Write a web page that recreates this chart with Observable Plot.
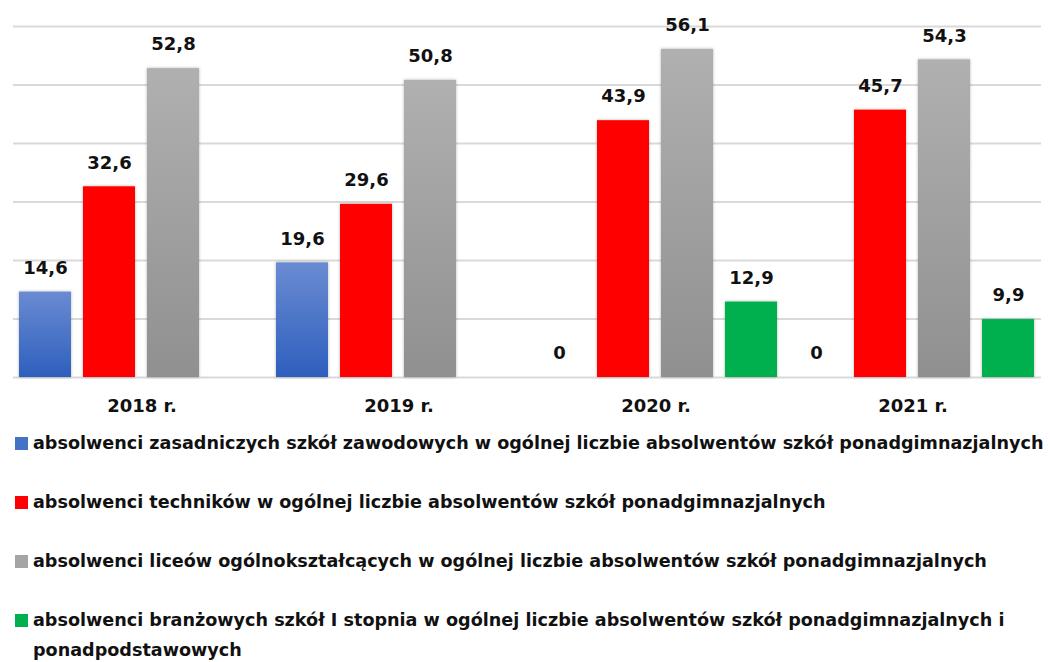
<!DOCTYPE html>
<html>
<head>
<meta charset="utf-8">
<script src="https://cdn.jsdelivr.net/npm/d3@7"></script>
<script src="https://cdn.jsdelivr.net/npm/@observablehq/plot@0.6"></script>
<style>
  html, body { margin: 0; padding: 0; background: #fff; }
  body { width: 1050px; height: 662px; overflow: hidden; font-family: "DejaVu Sans", sans-serif; }
  #legend { margin-top: 3px; }
  .item { position: relative; padding-left: 33px; padding-right: 4px; line-height: 30px; font-size: 17.6px; font-weight: bold; color: #111; margin-bottom: 29px; }
  .sw { position: absolute; left: 15px; top: 9px; width: 13px; height: 13px; }
</style>
</head>
<body>
<div id="chart"></div>
<div id="legend"></div>
<script>
const years = ["2018 r.", "2019 r.", "2020 r.", "2021 r."];
const seriesNames = [
  "absolwenci zasadniczych szkół zawodowych w ogólnej liczbie absolwentów szkół ponadgimnazjalnych",
  "absolwenci techników w ogólnej liczbie absolwentów szkół ponadgimnazjalnych",
  "absolwenci liceów ogólnokształcących w ogólnej liczbie absolwentów szkół ponadgimnazjalnych",
  "absolwenci branżowych szkół I stopnia w ogólnej liczbie absolwentów szkół ponadgimnazjalnych i ponadpodstawowych"
];
const zasadnicze = [14.6, 19.6, 0, 0];
const technika = [32.6, 29.6, 43.9, 45.7];
const licea = [52.8, 50.8, 56.1, 54.3];
const branzowe = [null, null, 12.9, 9.9];
const yTicks = [0, 10, 20, 30, 40, 50, 60];

const seriesValues = [zasadnicze, technika, licea, branzowe];
const fills = ["url(#gBlue)", "#ff0000", "url(#gGray)", "#00b050"];
const swatches = ["#4472c4", "#ff0000", "#a5a5a5", "#00b050"];

const data = [];
years.forEach((y, i) => {
  seriesNames.forEach((s, j) => {
    const v = seriesValues[j][i];
    if (v !== null) data.push({year: y, series: s, value: v});
  });
});
const fmt = v => v === 0 ? "0" : v.toFixed(1).replace(".", ",");

const plot = Plot.plot({
  width: 1050,
  height: 425,
  marginLeft: 12,
  marginRight: 8,
  marginTop: 26,
  marginBottom: 48,
  style: {fontFamily: "DejaVu Sans, sans-serif", background: "#fff"},
  fx: {domain: years, padding: 0, label: null},
  x: {domain: seriesNames, paddingInner: 0.18, paddingOuter: 0.08, axis: null},
  y: {domain: [0, 60], axis: null},
  color: {domain: seriesNames, range: fills},
  marks: [
    Plot.ruleY(yTicks, {stroke: "#d9d9d9", strokeWidth: 2}),
    Plot.barY(data, {fx: "year", x: "series", y: "value", fill: "series", filter: d => d.value > 0}),
    Plot.text(data, {fx: "year", x: "series", y: "value", text: d => fmt(d.value), dy: -24,
      fontSize: 18, fontWeight: "bold", fill: "#111"}),
    Plot.axisFx({anchor: "bottom", tickSize: 0, tickPadding: 22, fontSize: 18, fontWeight: "bold", label: null, fill: "#111"})
  ]
});

const svg = d3.select(plot);
const defs = svg.insert("defs", ":first-child");
const gb = defs.append("linearGradient").attr("id", "gBlue").attr("x1", 0).attr("y1", 0).attr("x2", 0).attr("y2", 1);
gb.append("stop").attr("offset", "0%").attr("stop-color", "#6a8bd2");
gb.append("stop").attr("offset", "100%").attr("stop-color", "#2e5fbd");
const gg = defs.append("linearGradient").attr("id", "gGray").attr("x1", 0).attr("y1", 0).attr("x2", 0).attr("y2", 1);
gg.append("stop").attr("offset", "0%").attr("stop-color", "#b0b0b0");
gg.append("stop").attr("offset", "100%").attr("stop-color", "#909090");
const f = defs.append("filter").attr("id", "shadow").attr("x", "-20%").attr("y", "-20%").attr("width", "140%").attr("height", "140%");
f.append("feDropShadow").attr("dx", 0).attr("dy", 0).attr("stdDeviation", 1.5).attr("flood-color", "#000").attr("flood-opacity", 0.3);
svg.selectAll("g[aria-label='bar'] rect").attr("filter", "url(#shadow)");

document.getElementById("chart").appendChild(plot);

const legend = d3.select("#legend");
seriesNames.forEach((s, j) => {
  const it = legend.append("div").attr("class", "item");
  it.append("span").attr("class", "sw").style("background", swatches[j]);
  it.append("span").text(s);
});
</script>
</body>
</html>
